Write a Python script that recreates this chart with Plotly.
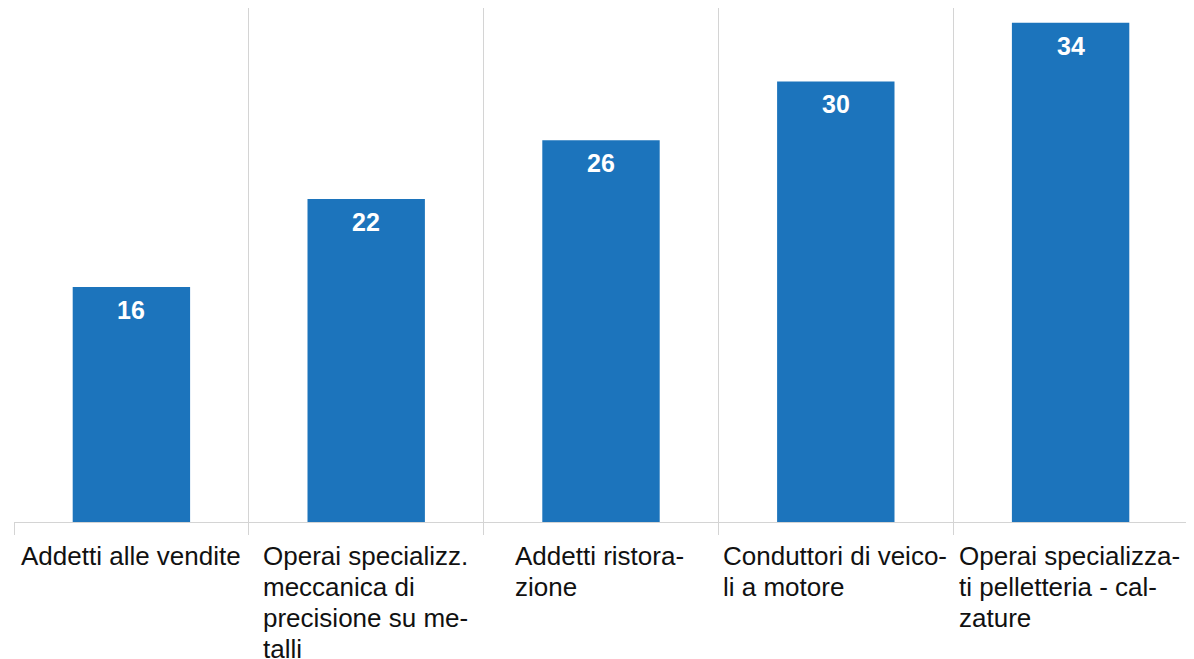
import plotly.graph_objects as go

categories = [
    ["Addetti alle vendite"],
    ["Operai specializz.", "meccanica di", "precisione su me-", "talli"],
    ["Addetti ristora-", "zione"],
    ["Conduttori di veico-", "li a motore"],
    ["Operai specializza-", "ti pelletteria - cal-", "zature"],
]
values = [16, 22, 26, 30, 34]

BAR_COLOR = '#1c74bc'
GRID_COLOR = '#d4d4d4'
FONT = 'Liberation Sans, Arial, sans-serif'
LABEL_SIZE = 26
LINE_STEP = 31  # line pitch of the category labels, px

# Arial / Liberation Sans advance widths (1/1000 em), used to centre
# each label block while keeping its lines left-aligned
ADV = {' ': 278, 'A': 667, 'C': 722, 'O': 778, 'a': 556, 'c': 500,
       'd': 556, 'e': 556, 'i': 222, 'l': 222, 'm': 833, 'n': 556,
       'o': 556, 'p': 556, 'r': 333, 's': 500, 't': 278, 'u': 556,
       'v': 500, 'z': 500, '.': 278, '-': 333}


def text_width(s, size):
    return sum(ADV.get(ch, 556) for ch in s) * size / 1000


fig = go.Figure(go.Bar(
    x=list(range(len(values))),
    y=values,
    marker=dict(color=BAR_COLOR, line=dict(width=0)),
    hoverinfo='skip',
))

# value labels inside the top of each bar
for i, v in enumerate(values):
    fig.add_annotation(
        x=i, y=v, text=f'<b>{v}</b>', showarrow=False,
        yanchor='middle', yshift=-23,
        font=dict(family=FONT, size=25, color='white'),
    )

# category labels, one annotation per line
for i, lines in enumerate(categories):
    block_w = max(text_width(ln, LABEL_SIZE) for ln in lines)
    for k, ln in enumerate(lines):
        fig.add_annotation(
            x=i, y=0, yref='paper', text=ln, showarrow=False,
            xanchor='left', yanchor='top', align='left',
            xshift=-block_w / 2 - 3, yshift=-17 - k * LINE_STEP,
            font=dict(family=FONT, size=LABEL_SIZE, color='#111111'),
        )

fig.update_layout(
    width=1186, height=651,
    margin=dict(l=6, r=6, t=0, b=137),
    plot_bgcolor='white',
    paper_bgcolor='white',
    bargap=0.5,
    showlegend=False,
    font=dict(family=FONT),
)
fig.update_xaxes(
    type='category',
    tickmode='array', tickvals=list(range(len(values))),
    tickson='boundaries', ticks='outside', ticklen=12, tickcolor=GRID_COLOR,
    showgrid=True, gridcolor=GRID_COLOR, gridwidth=1,
    showline=True, linecolor=GRID_COLOR, linewidth=1,
    showticklabels=False, range=[-0.5, len(values) - 0.5],
)
fig.update_yaxes(range=[0, 35], showgrid=False, zeroline=False,
                 showticklabels=False, ticks='')

fig.write_html("out.html")
